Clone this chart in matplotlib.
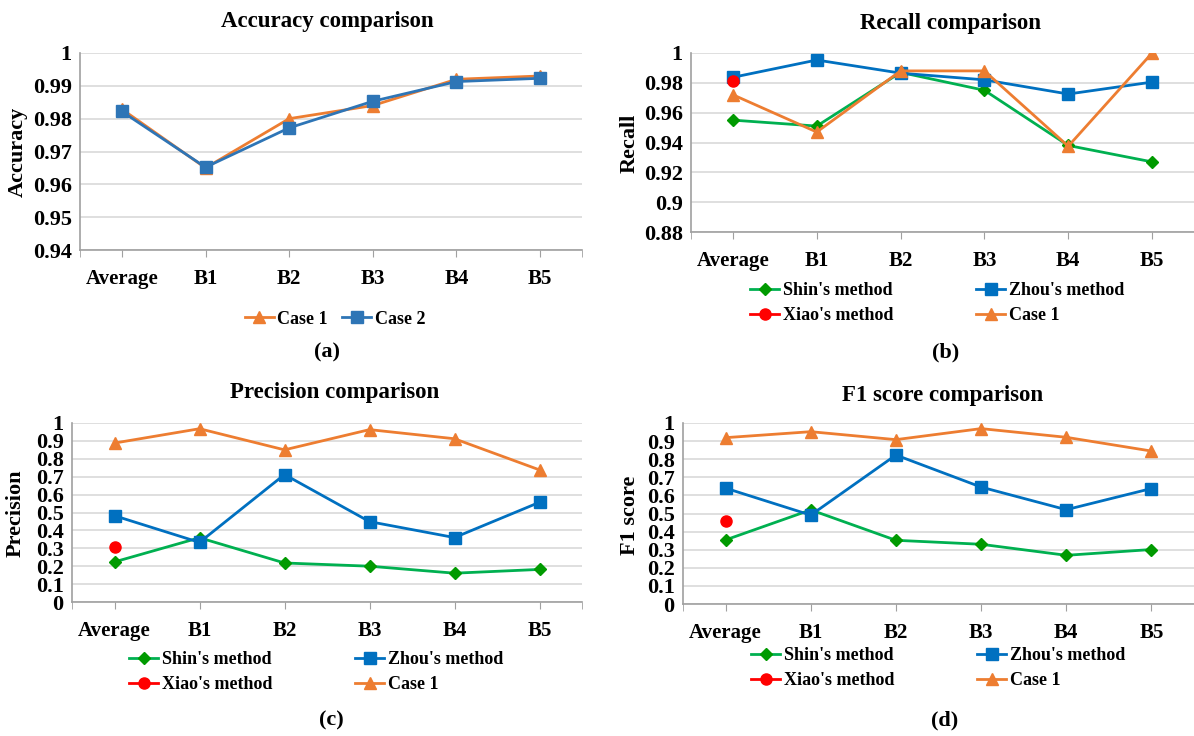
import numpy as np
import matplotlib
matplotlib.use('Agg')
from matplotlib import pyplot as plt
from matplotlib.ticker import FixedLocator

plt.rcParams['font.family'] = ['Liberation Serif', 'DejaVu Serif']
plt.rcParams['font.weight'] = 'bold'

categories = ['Average', 'B1', 'B2', 'B3', 'B4', 'B5']

# (a) accuracy
acc_case1 = [0.9829, 0.9650, 0.9800, 0.9840, 0.9920, 0.9930]
acc_case2 = [0.9822, 0.9652, 0.9772, 0.9853, 0.9913, 0.9923]

# (b) recall
rec_shin = [0.955, 0.951, 0.987, 0.975, 0.938, 0.927]
rec_zhou = [0.9837, 0.9953, 0.9865, 0.982, 0.9725, 0.9805]
rec_xiao = [0.9810, np.nan, np.nan, np.nan, np.nan, np.nan]
rec_case1 = [0.972, 0.947, 0.988, 0.988, 0.9375, 1.0]

# (c) precision
pre_shin = [0.224, 0.359, 0.218, 0.200, 0.161, 0.182]
pre_zhou = [0.482, 0.333, 0.712, 0.449, 0.360, 0.557]
pre_xiao = [0.308, np.nan, np.nan, np.nan, np.nan, np.nan]
pre_case1 = [0.888, 0.968, 0.850, 0.963, 0.912, 0.738]

# (d) F1 score
f1_shin = [0.354, 0.520, 0.352, 0.330, 0.269, 0.301]
f1_zhou = [0.640, 0.491, 0.823, 0.646, 0.521, 0.638]
f1_xiao = [0.459, np.nan, np.nan, np.nan, np.nan, np.nan]
f1_case1 = [0.919, 0.952, 0.908, 0.969, 0.921, 0.845]

W, H = 1194, 736
ORANGE = '#ED7D31'
BLUE = '#0070C0'
BLUE_A = '#2E75B6'
GREEN_L = '#00B050'
GREEN_M = '#009A00'
RED = '#FF0000'

fig = plt.figure(figsize=(W / 100, H / 100), dpi=100)


def box(l, t, r, b):
    return [l / W, 1 - b / H, (r - l) / W, (b - t) / H]


def fx(x):
    return x / W


def fy(y):
    return 1 - y / H


def fmt(v):
    return ('%.2f' % v).rstrip('0').rstrip('.')


def style(ax, yticks):
    x = np.arange(len(categories))
    ax.set_xlim(-0.5, len(categories) - 0.5)
    ax.set_ylim(yticks[0], yticks[-1])
    ax.set_yticks(yticks)
    ax.set_yticklabels([fmt(v) for v in yticks], fontsize=16, fontweight='bold')
    ax.set_xticks(x)
    ax.set_xticklabels(categories, fontsize=15, fontweight='bold')
    ax.xaxis.set_minor_locator(FixedLocator([-0.5, len(categories) - 0.5]))
    ax.tick_params(axis='y', length=0, pad=6)
    ax.tick_params(axis='x', which='both', length=5, color='#A0A0A0', pad=8.5)
    ax.grid(axis='y', color='#D9D9D9', linewidth=1.2)
    ax.set_axisbelow(True)
    for s in ['top', 'right']:
        ax.spines[s].set_visible(False)
    for s in ['left', 'bottom']:
        ax.spines[s].set_color('#A0A0A0')
        ax.spines[s].set_linewidth(1.2)


def four_lines(ax, shin, zhou, xiao, case1):
    x = np.arange(len(categories))
    l1, = ax.plot(x, shin, color=GREEN_L, lw=2, marker='D', ms=6,
                  mfc=GREEN_M, mec=GREEN_M, label="Shin's method")
    l2, = ax.plot(x, zhou, color=BLUE, lw=2, marker='s', ms=8,
                  label="Zhou's method")
    l3, = ax.plot(x, case1, color=ORANGE, lw=2, marker='^', ms=8,
                  label='Case 1')
    l4, = ax.plot(x, xiao, color=RED, lw=2, marker='o', ms=8,
                  label="Xiao's method")
    return [l1, l4, l2, l3]


def legend(handles, cx, cy):
    fig.legend(handles=handles, loc='center', bbox_to_anchor=(fx(cx), fy(cy)),
               ncol=2, frameon=False, fontsize=13, handlelength=1.6,
               handletextpad=0.2, columnspacing=4.6, labelspacing=0.45,
               borderpad=0, borderaxespad=0)


# (a)
ax = fig.add_axes(box(80, 53, 582, 250))
x = np.arange(len(categories))
h1, = ax.plot(x, acc_case1, color=ORANGE, lw=2, marker='^', ms=8, label='Case 1')
h2, = ax.plot(x, acc_case2, color=BLUE_A, lw=2, marker='s', ms=8, label='Case 2')
style(ax, np.round(np.arange(0.94, 1.0001, 0.01), 2))
fig.legend(handles=[h1, h2], loc='center', bbox_to_anchor=(fx(335), fy(319)),
           ncol=2, frameon=False, fontsize=13, handlelength=1.6,
           handletextpad=0.2, columnspacing=0.8, borderpad=0)
fig.text(fx(327), fy(22), 'Accuracy comparison', ha='center', va='center',
         fontsize=16.5, fontweight='bold')
fig.text(fx(18), fy(152), 'Accuracy', rotation=90, ha='center', va='center',
         fontsize=16, fontweight='bold')
fig.text(fx(327), fy(352), '(a)', ha='center', va='center', fontsize=16,
         fontweight='bold')

# (b)
ax = fig.add_axes(box(691, 53, 1194, 232))
hs = four_lines(ax, rec_shin, rec_zhou, rec_xiao, rec_case1)
style(ax, np.round(np.arange(0.88, 1.0001, 0.02), 2))
legend(hs, 937, 303)
fig.text(fx(950), fy(24), 'Recall comparison', ha='center', va='center',
         fontsize=16.5, fontweight='bold')
fig.text(fx(630), fy(143), 'Recall', rotation=90, ha='center', va='center',
         fontsize=16, fontweight='bold')
fig.text(fx(946), fy(352), '(b)', ha='center', va='center', fontsize=16,
         fontweight='bold')

# (c)
ax = fig.add_axes(box(72, 423, 582, 602))
hs = four_lines(ax, pre_shin, pre_zhou, pre_xiao, pre_case1)
style(ax, np.round(np.arange(0, 1.0001, 0.1), 1))
legend(hs, 316, 672)
fig.text(fx(335), fy(393), 'Precision comparison', ha='center', va='center',
         fontsize=16.5, fontweight='bold')
fig.text(fx(16), fy(513), 'Precision', rotation=90, ha='center', va='center',
         fontsize=16, fontweight='bold')
fig.text(fx(331), fy(720), '(c)', ha='center', va='center', fontsize=16,
         fontweight='bold')

# (d)
ax = fig.add_axes(box(683, 423, 1194, 604))
hs = four_lines(ax, f1_shin, f1_zhou, f1_xiao, f1_case1)
style(ax, np.round(np.arange(0, 1.0001, 0.1), 1))
legend(hs, 938, 668)
fig.text(fx(943), fy(395), 'F1 score comparison', ha='center', va='center',
         fontsize=16.5, fontweight='bold')
fig.text(fx(630), fy(515), 'F1 score', rotation=90, ha='center', va='center',
         fontsize=16, fontweight='bold')
fig.text(fx(945), fy(720), '(d)', ha='center', va='center', fontsize=16,
         fontweight='bold')

plt.savefig('out.png', dpi=100)
